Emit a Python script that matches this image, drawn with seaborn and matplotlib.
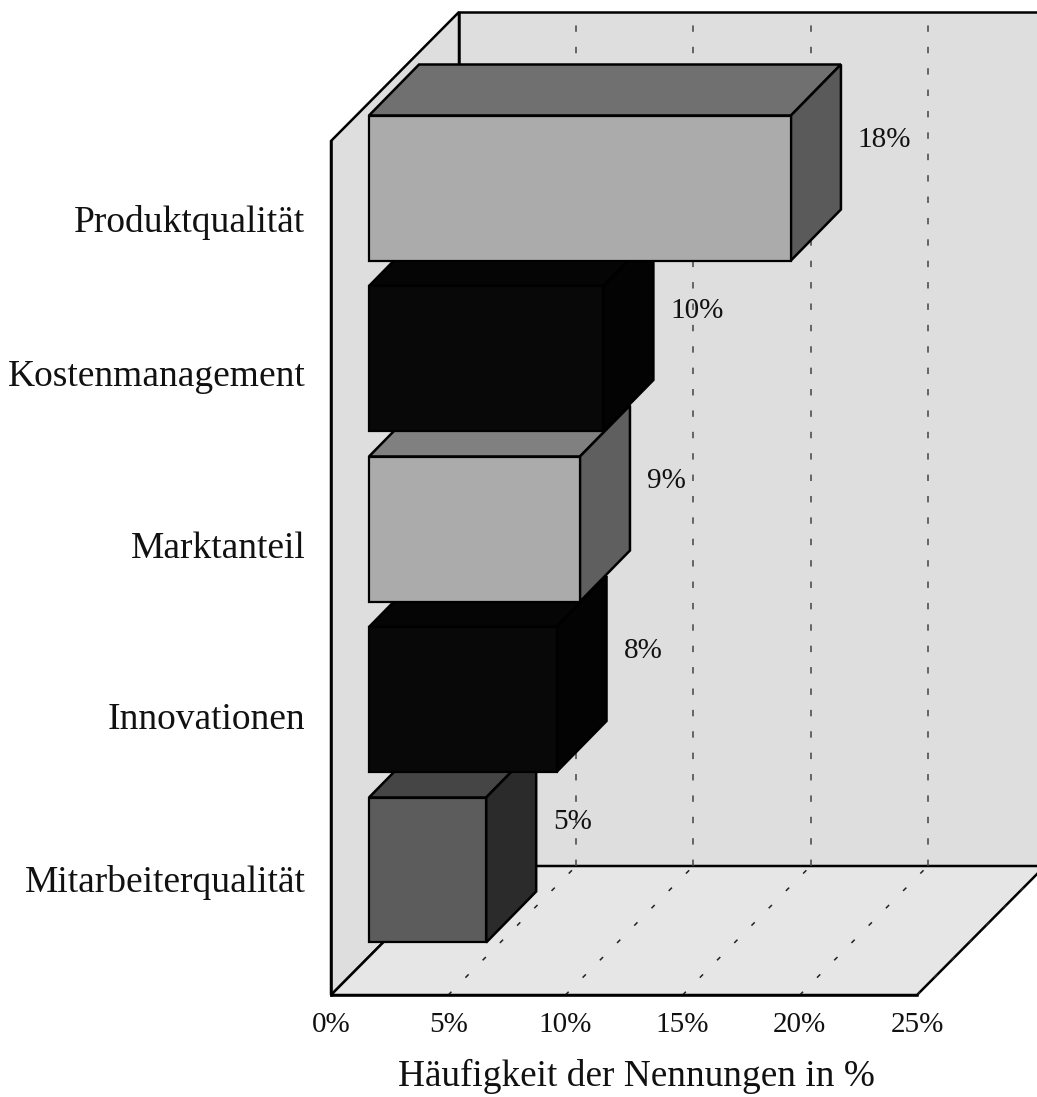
import numpy as np
import pandas as pd
import matplotlib
matplotlib.use("Agg")
import matplotlib.pyplot as plt
import seaborn as sns

# Data
categories = ["Produktqualität", "Kostenmanagement", "Marktanteil", "Innovationen", "Mitarbeiterqualität"]
values = [18, 10, 9, 8, 5]
x_ticks = [0, 5, 10, 15, 20, 25]

# Shades of the three visible faces of each bar
front_colors = ["#ababab", "#080808", "#ababab", "#080808", "#5c5c5c"]
top_colors = ["#707070", "#050505", "#808080", "#050505", "#454545"]
side_colors = ["#5a5a5a", "#030303", "#5f5f5f", "#030303", "#2b2b2b"]

WALL = "#dedede"
FLOOR = "#e6e6e6"

# Layout, in pixels of the 1037x1097 canvas
W, H = 1037, 1097
LEFT, RIGHT, TOP, BOTTOM = 331, 917, 141, 995
PX_X = (RIGHT - LEFT) / 25          # pixels per percent
PX_Y = 170.5                        # pixels per category
CENTER0 = 188                       # pixel row of the first bar centre

to_pt = 72 / 100
y_bottom = (BOTTOM - CENTER0) / PX_Y
y_top = (TOP - CENTER0) / PX_Y
room_dx, room_dy = 128 / PX_X, -129 / PX_Y   # depth of the room
bar_dx, bar_dy = 50 / PX_X, -51 / PX_Y       # depth of a bar
bar_shift = 38 / PX_X
label_ticks = [(p - CENTER0) / PX_Y for p in [218, 373, 545, 716, 879]]

sns.set_theme(style="white")
plt.rcParams["font.family"] = ["Liberation Serif", "DejaVu Serif"]

fig = plt.figure(figsize=(W / 100, H / 100), dpi=100)
ax = fig.add_axes([LEFT / W, 1 - BOTTOM / H, (RIGHT - LEFT) / W, (BOTTOM - TOP) / H])
ax.patch.set_visible(False)

df = pd.DataFrame({"category": categories, "value": values})
sns.barplot(data=df, x="value", y="category", hue="category", palette=front_colors,
            order=categories, hue_order=categories, dodge=False, legend=False, width=145 / PX_Y,
            left=bar_shift, edgecolor="black", linewidth=1.6, saturation=1, ax=ax, zorder=5)

ax.set_xlim(0, 25)
ax.set_ylim(y_bottom, y_top)

# Room: left wall, back wall, floor
line_kws = dict(clip_on=False, edgecolor="black", linewidth=1.8)
ax.fill([0, room_dx, room_dx, 0], [y_top, y_top + room_dy, y_bottom + room_dy, y_bottom],
        facecolor=WALL, zorder=1, **line_kws)
ax.fill([room_dx, 32, 32, room_dx], [y_top + room_dy, y_top + room_dy, y_bottom + room_dy, y_bottom + room_dy],
        facecolor=WALL, zorder=1, **line_kws)
ax.fill([0, 25, 25 + room_dx, room_dx], [y_bottom, y_bottom, y_bottom + room_dy, y_bottom + room_dy],
        facecolor=FLOOR, zorder=1, **line_kws)

# Dashed grid on the back wall and the floor
for t in x_ticks[1:]:
    ax.plot([t + room_dx, t + room_dx], [y_bottom + room_dy, y_top + room_dy], color="#444444",
            lw=1.1, dashes=(4.2, 9.8), clip_on=False, zorder=2)
    ax.plot([t, t + room_dx], [y_bottom, y_bottom + room_dy], color="#222222",
            lw=1.1, dashes=(3, 13), clip_on=False, zorder=2)

# Top and side faces, upper bars lie over lower ones
for i, (v, top_c, side_c) in enumerate(zip(values, top_colors, side_colors)):
    z = 20 - 2 * i
    y0, y1 = i - 72.5 / PX_Y, i + 72.5 / PX_Y
    x0, x1 = bar_shift, bar_shift + v
    ax.fill([x0, x0 + bar_dx, x1 + bar_dx, x1], [y0, y0 + bar_dy, y0 + bar_dy, y0],
            facecolor=top_c, zorder=z, **line_kws)
    ax.fill([x1, x1 + bar_dx, x1 + bar_dx, x1], [y0, y0 + bar_dy, y1 + bar_dy, y1],
            facecolor=side_c, zorder=z, **line_kws)
    ax.patches[i].set_zorder(z + 1)
    ax.patches[i].set_clip_on(False)
    ax.annotate(f"{v}%", xy=(x1 + bar_dx, i - 48 / PX_Y), xytext=(17 * to_pt, 0),
                textcoords="offset points", ha="left", va="center", fontsize=21, color="#111111",
                zorder=30, annotation_clip=False)

sns.despine(ax=ax, top=True, right=True)
for side in ["left", "bottom"]:
    ax.spines[side].set_color("black")
    ax.spines[side].set_linewidth(1.8)
    ax.spines[side].set_zorder(4)

ax.set_xticks(x_ticks, [f"{t}%" for t in x_ticks])
ax.set_yticks(label_ticks, categories)
ax.tick_params(axis="x", length=0, pad=12, labelsize=21, labelcolor="#111111")
ax.tick_params(axis="y", length=0, pad=18.5, labelsize=27, labelcolor="#111111")
ax.set_xlabel("Häufigkeit der Nennungen in %", fontsize=26.8, labelpad=15, color="#111111", x=0.522)
ax.set_ylabel("")

fig.savefig("out.png", dpi=100, facecolor="white")
